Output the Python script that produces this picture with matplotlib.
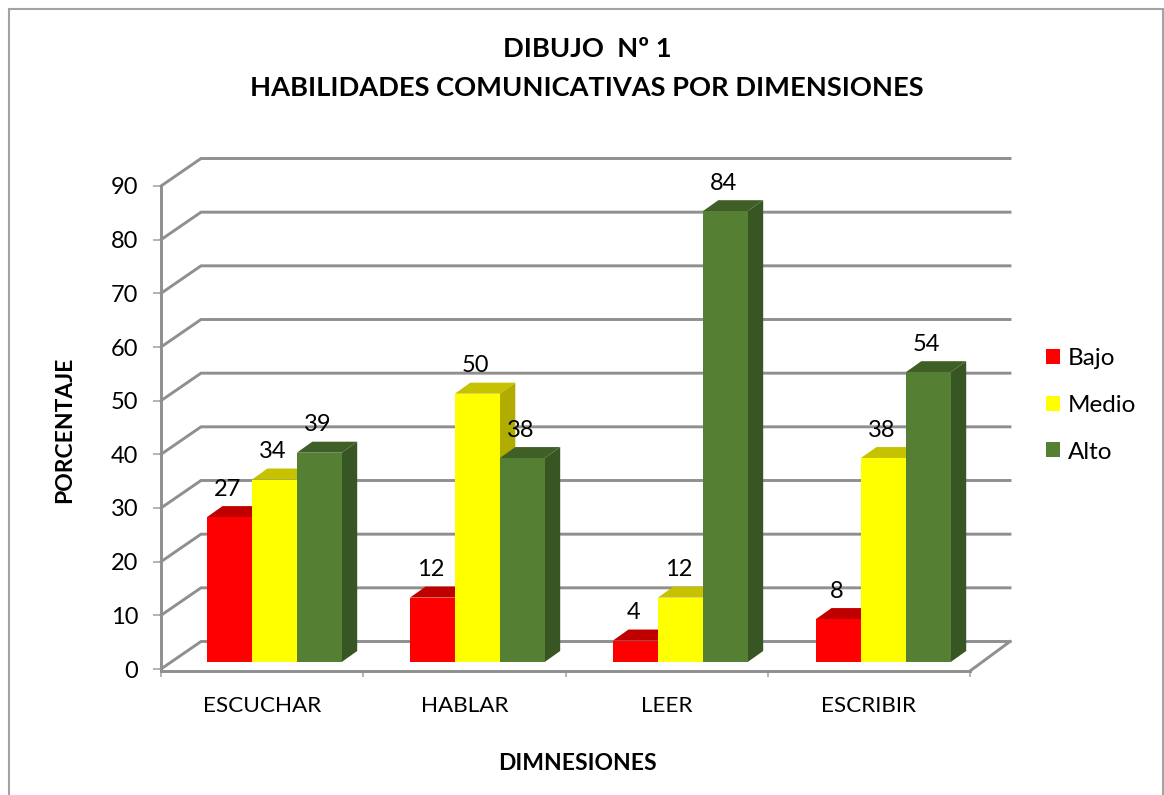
import matplotlib
matplotlib.use("Agg")
import matplotlib.pyplot as plt
from matplotlib.patches import Polygon, Rectangle, Patch

plt.rcParams['font.family'] = ['Lato', 'DejaVu Sans']

categories = ["ESCUCHAR", "HABLAR", "LEER", "ESCRIBIR"]
bajo = [27, 12, 4, 8]
medio = [34, 50, 12, 38]
alto = [39, 38, 84, 54]
series_names = ["Bajo", "Medio", "Alto"]
y_ticks = list(range(0, 100, 10))
title_lines = "DIBUJO  Nº 1\nHABILIDADES COMUNICATIVAS POR DIMENSIONES"
x_title = "DIMNESIONES"
y_title = "PORCENTAJE"

W, H = 1164, 795
AX_L, AX_R, AX_B, AX_T = 161, 970, 669, 186
GRID = "#8f8f8f"
TICK = "#a8a8a8"
FRONT = ["#ff0000", "#ffff00", "#558033"]
TOP = ["#c00000", "#c6c200", "#3f5f26"]
SIDE = ["#a80000", "#b0ac00", "#375623"]

fig = plt.figure(figsize=(W / 100, H / 100), dpi=100, facecolor="white")
fig.add_artist(Rectangle((9 / W, -0.01), (1163 - 9) / W, (795 - 9) / H + 0.01,
                         transform=fig.transFigure, fill=False,
                         edgecolor="#a3a3a3", linewidth=1.5))
ax = fig.add_axes([AX_L / W, (H - AX_B) / H, (AX_R - AX_L) / W, (AX_B - AX_T) / H])
ax.set_xlim(0, len(categories))
ax.set_ylim(0, y_ticks[-1])
ax.patch.set_alpha(0)

px = len(categories) / (AX_R - AX_L)      # one pixel in category units
py = y_ticks[-1] / (AX_B - AX_T)          # one pixel in value units
wall_dx, wall_dy = 40 * px, 27.5 * py
bar_dx, bar_dy = 15.5 * px, 11 * py
plane_dx, plane_dy = 12 * px, 7 * py
bar_w = 44.9 * px
group_margin = 34 * px
group_step = 203 * px

# walls
for t in y_ticks:
    ax.plot([0, wall_dx, len(categories) + wall_dx], [t, t + wall_dy, t + wall_dy],
            color=GRID, lw=2.1, clip_on=False, zorder=1, solid_joinstyle="miter")
ax.plot([len(categories), len(categories) + wall_dx], [-2 * py, wall_dy],
        color=GRID, lw=2.1, clip_on=False, zorder=1)

# bars
all_series = [bajo, medio, alto]
for g in range(len(categories)):
    for s, vals in enumerate(all_series):
        v = vals[g]
        x0 = g * group_step + group_margin + plane_dx + s * bar_w
        x1 = x0 + bar_w
        y0 = plane_dy
        y1 = v + plane_dy
        z = 3 + g + s * 0.1
        ax.add_patch(Polygon([(x1, y0), (x1 + bar_dx, y0 + bar_dy),
                              (x1 + bar_dx, y1 + bar_dy), (x1, y1)],
                             closed=True, fc=SIDE[s], ec="none", clip_on=False, zorder=z))
        ax.add_patch(Polygon([(x0, y1), (x1, y1), (x1 + bar_dx, y1 + bar_dy),
                              (x0 + bar_dx, y1 + bar_dy)],
                             closed=True, fc=TOP[s], ec="none", clip_on=False, zorder=z))
        ax.bar(x0, v, width=bar_w, bottom=y0, align="edge", color=FRONT[s],
               edgecolor="none", clip_on=False, zorder=z)
        ax.text(x0 + bar_w / 2 - 2 * px, y1 + 28 * py, str(v), ha="center", va="center",
                fontsize=17, color="black", zorder=10, clip_on=False)

# axes
for side in ("top", "right"):
    ax.spines[side].set_visible(False)
ax.spines["left"].set_color(GRID)
ax.spines["left"].set_linewidth(2.1)
ax.spines["left"].set_zorder(2)
ax.spines["bottom"].set_color(GRID)
ax.spines["bottom"].set_linewidth(2.1)
ax.spines["bottom"].set_position(("outward", 1.5))
ax.spines["bottom"].set_zorder(2)
ax.set_yticks(y_ticks)
ax.set_yticklabels([str(t) for t in y_ticks], fontsize=17)
ax.tick_params(axis="y", length=6, width=1.2, color=TICK, pad=10.5, labelcolor="black")
ax.set_xticks(range(len(categories) + 1))
ax.set_xticklabels([])
ax.tick_params(axis="x", which="major", length=4.5, width=1.2, color=TICK)
ax.set_xticks([i + 0.5 for i in range(len(categories))], minor=True)
ax.set_xticklabels(categories, minor=True, fontsize=16.2)
ax.tick_params(axis="x", which="minor", length=0, pad=18, labelcolor="black")

# titles
fig.text(587 / W, 1 - 68.5 / H, title_lines, ha="center", va="center", fontsize=19.6,
         fontweight="bold", linespacing=1.72)
fig.text(577 / W, 1 - 763 / H, x_title, ha="center", va="center", fontsize=16.5, fontweight="bold")
fig.text(65 / W, 1 - 430 / H, y_title, ha="center", va="center", rotation=90,
         fontsize=16.5, fontweight="bold")

# legend
handles = [Patch(facecolor=c, edgecolor="none") for c in FRONT]
fig.legend(handles, series_names, loc="center left",
           bbox_to_anchor=(1046 / W, 1 - 405.5 / H), frameon=False, fontsize=17.5,
           borderaxespad=0, borderpad=0, handlelength=0.58, handleheight=0.58,
           handletextpad=0.33, labelspacing=1.05)

fig.savefig("out.png", dpi=100, facecolor="white")
